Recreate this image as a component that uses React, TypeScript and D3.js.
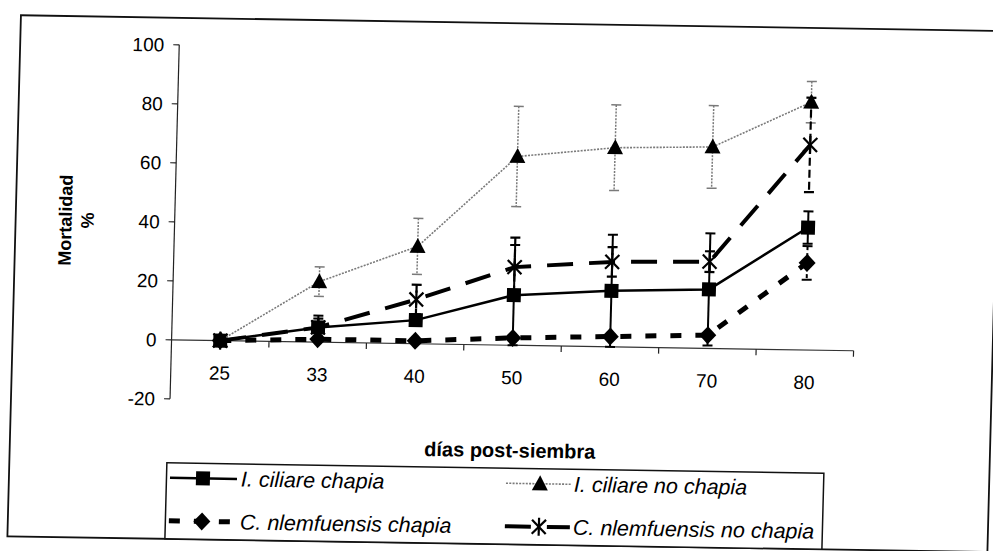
import React from "react";
import * as d3 from "d3";

const categories = ["25", "33", "40", "50", "60", "70", "80"];
const yTickValues = [-20, 0, 20, 40, 60, 80, 100];

const ciliareChapia = [0, 5, 8, 17, 19, 20, 41.5];
const ciliareChapiaErr = [0, 4, 0, 17, 19, 19, 5.5];
const ciliareNoChapia = [0, 20.5, 33, 64, 67.5, 68.3, 84];
const ciliareNoChapiaErr = [0, 5, 9.5, 17, 14.5, 14, 7];
const nlemChapia = [0, 1, 1, 2.5, 3.5, 4.5, 29.5];
const nlemChapiaErr = [0, 0, 0, 0, 0, 0, 5.7];
const nlemNoChapia = [0, 5, 15, 26.5, 28.8, 29.4, 69.5];
const nlemNoChapiaErr = [0, 3, 5, 10, 5, 3.5, 16];

const seriesNames = [
  "I. ciliare chapia",
  "I. ciliare no chapia",
  "C. nlemfuensis chapia",
  "C. nlemfuensis no chapia",
];

type Style = {
  stroke: string;
  width: number;
  dash?: string;
  errStroke: string;
  errWidth: number;
  errDash?: string;
  marker: "square" | "triangle" | "diamond" | "star";
};

const styles: Style[] = [
  { stroke: "#000", width: 2.5, errStroke: "#000", errWidth: 2, marker: "square" },
  { stroke: "#7a7a7a", width: 1.6, dash: "2 1.3", errStroke: "#7a7a7a", errWidth: 1.5, errDash: "2 1.3", marker: "triangle" },
  { stroke: "#000", width: 5, dash: "11 14", errStroke: "#000", errWidth: 2, errDash: "4 3", marker: "diamond" },
  { stroke: "#000", width: 4, dash: "26 16", errStroke: "#000", errWidth: 2.2, errDash: "8 4", marker: "star" },
];

const seriesValues = [ciliareChapia, ciliareNoChapia, nlemChapia, nlemNoChapia];
const seriesErrs = [ciliareChapiaErr, ciliareNoChapiaErr, nlemChapiaErr, nlemNoChapiaErr];

function Marker({ kind, cx, cy }: { kind: Style["marker"]; cx: number; cy: number }) {
  if (kind === "square") return <rect x={cx - 7} y={cy - 7} width={14} height={14} fill="#000" />;
  if (kind === "triangle")
    return <path d={`M${cx},${cy - 8.5} L${cx + 8},${cy + 6.5} L${cx - 8},${cy + 6.5}Z`} fill="#000" />;
  if (kind === "diamond")
    return <path d={`M${cx},${cy - 9} L${cx + 8.5},${cy} L${cx},${cy + 9} L${cx - 8.5},${cy}Z`} fill="#000" />;
  return (
    <g stroke="#000" strokeWidth={2.2}>
      <line x1={cx - 7} y1={cy - 7} x2={cx + 7} y2={cy + 7} />
      <line x1={cx - 7} y1={cy + 7} x2={cx + 7} y2={cy - 7} />
      <line x1={cx} y1={cy - 9} x2={cx} y2={cy + 9} />
    </g>
  );
}

export default function App() {
  const W = 993;
  const H = 551;
  const x = d3.scaleBand().domain(categories).range([173, 855]).padding(0);
  const bw = x.bandwidth();
  const cx = (c: string) => (x(c) as number) + bw / 2;
  const y = d3.scaleLinear().domain([-20, 100]).range([404, 50]);
  const font = "'Liberation Sans', Arial, sans-serif";

  const lineGen = d3
    .line<number>()
    .x((_, i) => cx(categories[i]))
    .y((d) => y(d));

  // scanned-page skew
  const b = 0.016;
  const c = -0.026;
  const e = -c * 290;
  const f = -b * 496;

  const legendRows = [
    { col: 0, row: 0, s: 0 },
    { col: 1, row: 0, s: 1 },
    { col: 0, row: 1, s: 2 },
    { col: 1, row: 1, s: 3 },
  ];
  const legCols = [{ lx0: 175, lx1: 242, mx: 208, tx: 246 }, { lx0: 511, lx1: 576, mx: 545, tx: 579 }];
  const legRowsY = [483, 526];

  return (
    <svg
      width={W}
      height={H}
      style={{ position: "absolute", left: 0, top: 0, background: "#fff" }}
      fontFamily={font}
    >
      <rect x={0} y={0} width={W} height={H} fill="#fff" />
      <g transform={`matrix(1 ${b} ${c} 1 ${e} ${f})`}>
        {/* outer frame */}
        <rect x={14} y={23} width={980} height={521} fill="none" stroke="#111" strokeWidth={1.8} />

        {/* y axis */}
        <line x1={173} y1={y(100)} x2={173} y2={y(-20)} stroke="#222" strokeWidth={1.2} />
        {yTickValues.map((t) => (
          <g key={t}>
            <line x1={167} y1={y(t)} x2={173} y2={y(t)} stroke="#222" strokeWidth={1.2} />
            <text x={158} y={y(t)} dy="0.36em" textAnchor="end" fontSize={19} fill="#000">
              {t}
            </text>
          </g>
        ))}

        {/* x axis at 0 */}
        <line x1={173} y1={y(0)} x2={855} y2={y(0)} stroke="#333" strokeWidth={1.2} />
        {categories.map((cat) => (
          <line
            key={"t" + cat}
            x1={(x(cat) as number) + bw}
            y1={y(0)}
            x2={(x(cat) as number) + bw}
            y2={y(0) + 6}
            stroke="#222"
            strokeWidth={1.2}
          />
        ))}
        {categories.map((cat) => (
          <text key={"l" + cat} x={cx(cat)} y={384} textAnchor="middle" fontSize={19} fill="#000">
            {cat}
          </text>
        ))}

        {/* axis titles */}
        <text
          transform={`translate(70, ${(y(100) + y(-20)) / 2}) rotate(-90)`}
          textAnchor="middle"
          fontSize={18}
          fontWeight="bold"
        >
          Mortalidad
        </text>
        <text
          transform={`translate(92, ${(y(100) + y(-20)) / 2}) rotate(-90)`}
          textAnchor="middle"
          fontSize={18}
          fontWeight="bold"
        >
          %
        </text>
        <text x={514} y={457} textAnchor="middle" fontSize={20} fontWeight="bold">
          días post-siembra
        </text>

        {/* series */}
        {seriesValues.map((vals, si) => {
          const st = styles[si];
          const errs = seriesErrs[si];
          return (
            <g key={si}>
              <path
                d={lineGen(vals) || ""}
                fill="none"
                stroke={st.stroke}
                strokeWidth={st.width}
                strokeDasharray={st.dash}
              />
              {vals.map((v, i) =>
                errs[i] > 0 ? (
                  <g key={"e" + i} stroke={st.errStroke} strokeWidth={st.errWidth}>
                    <line
                      x1={cx(categories[i])}
                      x2={cx(categories[i])}
                      y1={y(v + errs[i])}
                      y2={y(v - errs[i])}
                      strokeDasharray={st.errDash}
                    />
                    <line
                      x1={cx(categories[i]) - 5}
                      x2={cx(categories[i]) + 5}
                      y1={y(v + errs[i])}
                      y2={y(v + errs[i])}
                    />
                    <line
                      x1={cx(categories[i]) - 5}
                      x2={cx(categories[i]) + 5}
                      y1={y(v - errs[i])}
                      y2={y(v - errs[i])}
                    />
                  </g>
                ) : null
              )}
              {vals.map((v, i) => (
                <Marker key={"m" + i} kind={st.marker} cx={cx(categories[i])} cy={y(v)} />
              ))}
            </g>
          );
        })}

        {/* legend */}
        <rect x={171.5} y={468} width={657} height={76} fill="#fff" stroke="#111" strokeWidth={1.5} />
        {legendRows.map((lr) => {
          const col = legCols[lr.col];
          const ly = legRowsY[lr.row];
          const st = styles[lr.s];
          return (
            <g key={lr.s}>
              <line
                x1={col.lx0}
                x2={col.lx1}
                y1={ly}
                y2={ly}
                stroke={st.stroke}
                strokeWidth={st.width}
                strokeDasharray={st.dash}
              />
              <Marker kind={st.marker} cx={col.mx} cy={ly} />
              <text x={col.tx} y={ly + 7.5} fontSize={21.5} fontStyle="italic" fill="#000">
                {seriesNames[lr.s]}
              </text>
            </g>
          );
        })}
      </g>
    </svg>
  );
}
